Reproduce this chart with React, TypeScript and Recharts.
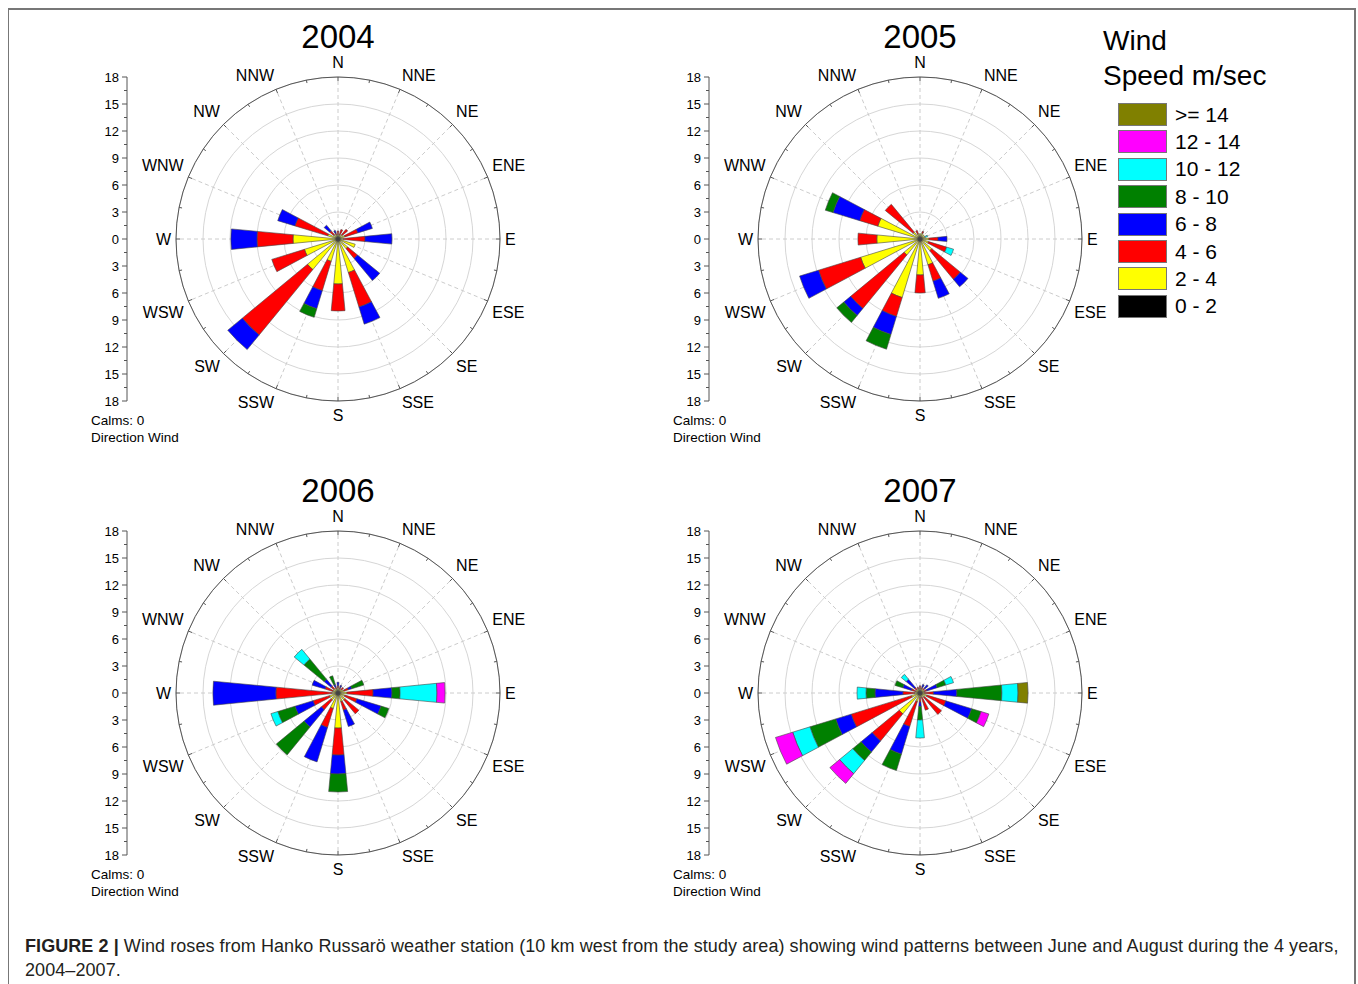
import React from "react";
import {
  RadialBarChart,
  RadialBar,
  PolarAngleAxis,
  PolarRadiusAxis,
  PolarGrid,
  Sector,
  LineChart,
  XAxis,
  YAxis,
} from "recharts";

const FONT = "'Liberation Sans', Arial, sans-serif";

// compass sectors, clockwise from north
const DIRS = ["N", "NNE", "NE", "ENE", "E", "ESE", "SE", "SSE", "S", "SSW", "SW", "WSW", "W", "WNW", "NW", "NNW"];
const RING_TICKS = [0, 3, 6, 9, 12, 15, 18];
const SIDE_TICKS = [18, 15, 12, 9, 6, 3, 0, -3, -6, -9, -12, -15, -18];
const SIDE_MINOR = [16.5, 13.5, 10.5, 7.5, 4.5, 1.5, -1.5, -4.5, -7.5, -10.5, -13.5, -16.5];

const BINS = [
  { key: "b0", label: "0 - 2", color: "#000000" },
  { key: "b2", label: "2 - 4", color: "#ffff00" },
  { key: "b4", label: "4 - 6", color: "#ff0000" },
  { key: "b6", label: "6 - 8", color: "#0000ff" },
  { key: "b8", label: "8 - 10", color: "#008000" },
  { key: "b10", label: "10 - 12", color: "#00ffff" },
  { key: "b12", label: "12 - 14", color: "#ff00ff" },
  { key: "b14", label: ">= 14", color: "#808000" },
];

// frequencies per speed class, same order as DIRS
const w04_0 = [0.3, 0.3, 0.3, 0.3, 0.3, 0.3, 0.3, 0.3, 0.3, 0.3, 0.3, 0.3, 0.3, 0.3, 0.3, 0.3];
const w04_2 = [0.2, 0.2, 0.3, 0.5, 0.3, 1.7, 1.1, 3.6, 4.7, 2.3, 4.1, 3.6, 4.7, 0.9, 0.3, 0.2];
const w04_4 = [0.4, 0.6, 0.8, 1.5, 2.4, 0, 1.4, 4.0, 3.0, 3.4, 9.4, 3.8, 4.0, 3.8, 0.6, 0.2];
const w04_6 = [0, 0, 0, 1.7, 3.0, 0, 3.2, 2.0, 0, 2.1, 2.1, 0, 2.9, 2.0, 0.8, 0.3];
const w04_8 = [0, 0, 0, 0, 0, 0, 0, 0, 0, 1.0, 0, 0, 0, 0, 0, 0];

const w05_0 = [0.3, 0.3, 0.3, 0.3, 0.3, 0.3, 0.3, 0.3, 0.3, 0.3, 0.3, 0.3, 0.3, 0.3, 0.3, 0.3];
const w05_2 = [0.3, 0.4, 0.3, 0.3, 0.7, 0.7, 1.4, 2.7, 3.7, 6.5, 2.0, 6.6, 4.5, 4.6, 0.7, 0.3];
const w05_4 = [0, 0.2, 0, 0, 1.0, 2.1, 4.1, 1.9, 2.0, 2.2, 7.7, 4.9, 2.1, 2.1, 4.0, 0.4];
const w05_6 = [0, 0, 0, 0, 1.0, 0, 1.1, 2.0, 0, 2.1, 1.0, 2.2, 0, 3.1, 0, 0];
const w05_8 = [0, 0, 0, 0, 0, 0, 0, 0, 0, 1.7, 1.0, 0, 0, 0.9, 0, 0];
const w05_10 = [0, 0, 0, 0.3, 0, 0.8, 0, 0, 0, 0, 0, 0, 0, 0, 0, 0];

const w06_0 = [0.3, 0.3, 0.3, 0.3, 0.3, 0.3, 0.3, 0.3, 0.3, 0.3, 0.3, 0.3, 0.3, 0.3, 0.3, 0.3];
const w06_2 = [0.3, 0.2, 0.2, 0.4, 0.7, 0.5, 0.7, 0.7, 3.6, 1.5, 0.7, 0.7, 0.4, 0.3, 0.3, 0.2];
const w06_4 = [0.2, 0.2, 0.3, 0.5, 2.9, 1.4, 2.0, 1.0, 3.0, 2.2, 1.4, 1.9, 6.2, 0.9, 0.4, 0.2];
const w06_6 = [0.4, 0.2, 0, 0.4, 2.1, 2.8, 0, 1.9, 2.1, 4.0, 2.5, 2.1, 7.0, 1.5, 1.0, 0.3];
const w06_8 = [0, 0, 0, 1.4, 0.9, 0.9, 0, 0, 2.0, 0, 4.0, 2.0, 0, 0, 2.9, 1.0];
const w06_10 = [0, 0, 0, 0, 4.1, 0, 0, 0, 0, 0, 0, 0.8, 0, 0, 1.4, 0];
const w06_12 = [0, 0, 0, 0, 0.9, 0, 0, 0, 0, 0, 0, 0, 0, 0, 0, 0];

const w07_0 = [0.3, 0.3, 0.3, 0.3, 0.3, 0.3, 0.3, 0.3, 0.3, 0.3, 0.3, 0.3, 0.3, 0.3, 0.3, 0.3];
const w07_2 = [0.2, 0.2, 0.2, 0.2, 0.2, 0.5, 0.3, 0.2, 0.2, 0.7, 2.7, 0.7, 0.3, 0.2, 0.2, 0.2];
const w07_4 = [0.3, 0.2, 0.2, 0.3, 1.0, 2.2, 2.5, 1.5, 0.5, 2.9, 3.9, 7.0, 1.3, 0.5, 0.3, 0.2];
const w07_6 = [0, 0.3, 0.5, 1.2, 2.6, 3.0, 0, 0, 0.5, 3.2, 1.6, 1.8, 3.1, 1.0, 1.2, 0];
const w07_8 = [0, 0, 0, 1.0, 5.0, 1.1, 0, 0, 1.5, 1.9, 1.2, 3.0, 1.0, 0.9, 0, 0];
const w07_10 = [0, 0, 0, 0.9, 1.8, 0, 0, 0, 2.0, 0, 1.9, 2.0, 1.0, 0, 0.7, 0];
const w07_12 = [0, 0, 0, 0, 0, 0.9, 0, 0, 0, 0, 1.4, 2.0, 0, 0, 0, 0];
const w07_14 = [0, 0, 0, 0, 1.1, 0, 0, 0, 0, 0, 0, 0, 0, 0, 0, 0];

const YEARS = [
  { year: "2004", cx: 338, cy: 239, bins: { b0: w04_0, b2: w04_2, b4: w04_4, b6: w04_6, b8: w04_8 } },
  { year: "2005", cx: 920, cy: 239, bins: { b0: w05_0, b2: w05_2, b4: w05_4, b6: w05_6, b8: w05_8, b10: w05_10 } },
  { year: "2006", cx: 338, cy: 693, bins: { b0: w06_0, b2: w06_2, b4: w06_4, b6: w06_6, b8: w06_8, b10: w06_10, b12: w06_12 } },
  { year: "2007", cx: 920, cy: 693, bins: { b0: w07_0, b2: w07_2, b4: w07_4, b6: w07_6, b8: w07_8, b10: w07_10, b12: w07_12, b14: w07_14 } },
];

// chart geometry
const W = 480;
const H = 400;
const CX = 240;
const CY = 200;
const OUTER = 162;

// recharts angles run counter-clockwise, so feed the sectors N, NNW, NW, ...
const CCW = [0, 15, 14, 13, 12, 11, 10, 9, 8, 7, 6, 5, 4, 3, 2, 1];
const SPOKES = DIRS.map((_, i) => 90 - i * 22.5);

const toRows = (bins: Record<string, number[]>) =>
  CCW.map((i) => {
    const row: any = { dir: DIRS[i] };
    BINS.forEach((b) => {
      row[b.key] = bins[b.key] ? bins[b.key][i] : 0;
    });
    return row;
  });

const SectorShape = (p: any) =>
  p.outerRadius - p.innerRadius > 0.05 ? <Sector {...p} /> : <g />;

const DirTick = (props: any) => {
  const name = props.payload.value;
  const idx = DIRS.indexOf(name);
  const b = (idx * 22.5 * Math.PI) / 180;
  const s = Math.sin(b);
  const c = Math.cos(b);
  const R = OUTER + 5;
  const x = CX + R * s;
  const y = CY - R * c - (Math.abs(c) > 0.01 ? Math.sign(c) * 9.5 : 0);
  const anchor = s > 0.01 ? "start" : s < -0.01 ? "end" : "middle";
  // small marks on the rim, at the sector and half way to the next one
  const m = b + (11.25 * Math.PI) / 180;
  return (
    <g>
      <line x1={CX + (OUTER - 4) * s} y1={CY - (OUTER - 4) * c} x2={CX + OUTER * s} y2={CY - OUTER * c} stroke="#555" />
      <line
        x1={CX + (OUTER - 3) * Math.sin(m)}
        y1={CY - (OUTER - 3) * Math.cos(m)}
        x2={CX + OUTER * Math.sin(m)}
        y2={CY - OUTER * Math.cos(m)}
        stroke="#555"
      />
      <text x={x} y={y} textAnchor={anchor} dominantBaseline="central" fontSize={16} fill="#000" fontFamily={FONT}>
        {name}
      </text>
    </g>
  );
};

const SideTick = (p: any) => {
  const v = p.payload.value;
  const major = v % 3 === 0;
  return (
    <g>
      <line x1={p.x - (major ? 5 : 3)} x2={p.x} y1={p.y} y2={p.y} stroke="#555" />
      {major && (
        <text x={p.x - 8} y={p.y} textAnchor="end" dominantBaseline="central" fontSize={13} fill="#000" fontFamily={FONT}>
          {Math.abs(v)}
        </text>
      )}
    </g>
  );
};

const Rose = ({ year, cx, cy, bins }: any) => {
  const rows = toRows(bins);
  return (
    <>
      <div
        style={{
          position: "absolute",
          left: cx - 100,
          top: cy - 217,
          width: 200,
          textAlign: "center",
          fontSize: 33,
          lineHeight: "30px",
        }}
      >
        {year}
      </div>

      {/* left frequency axis */}
      <div style={{ position: "absolute", left: cx - 211 - 50, top: cy - OUTER - 10 }}>
        <LineChart width={62} height={OUTER * 2 + 20} data={rows} margin={{ top: 10, right: 10, bottom: 10, left: 0 }}>
          <XAxis dataKey="dir" hide />
          <YAxis
            type="number"
            domain={[-18, 18]}
            allowDataOverflow
            ticks={[...SIDE_TICKS, ...SIDE_MINOR]}
            interval={0}
            width={50}
            tickSize={0}
            tickMargin={0}
            tickLine={false}
            axisLine={{ stroke: "#555" }}
            tick={SideTick}
          />
        </LineChart>
      </div>

      <div style={{ position: "absolute", left: cx - CX, top: cy - CY }}>
        <RadialBarChart
          width={W}
          height={H}
          cx={CX}
          cy={CY}
          innerRadius={0}
          outerRadius={OUTER}
          startAngle={101.25}
          endAngle={461.25}
          data={rows}
          layout="centric"
          barCategoryGap="26%"
          margin={{ top: 0, right: 0, bottom: 0, left: 0 }}
        >
          <PolarGrid gridType="circle" radialLines={false} stroke="#d6d6d6" />
          <PolarGrid gridType="circle" polarRadius={[]} polarAngles={SPOKES} stroke="#cccccc" strokeDasharray="4 3" />
          <PolarRadiusAxis type="number" domain={[0, 18]} ticks={RING_TICKS} tick={false} axisLine={false} />
          <PolarAngleAxis
            type="category"
            dataKey="dir"
            axisLineType="circle"
            stroke="#555"
            tickLine={false}
            tick={DirTick}
          />
          {BINS.map((b) => (
            <RadialBar
              key={b.key}
              dataKey={b.key}
              stackId="w"
              fill={b.color}
              stroke="#444"
              strokeWidth={0.6}
              shape={SectorShape}
              isAnimationActive={false}
            />
          ))}
        </RadialBarChart>
      </div>

      <div style={{ position: "absolute", left: cx - 247, top: cy + 173, fontSize: 13.5, lineHeight: "17px" }}>
        <div>Calms: 0</div>
        <div>Direction Wind</div>
      </div>
    </>
  );
};

export default function App() {
  return (
    <div
      style={{
        position: "fixed",
        left: 0,
        top: 0,
        width: 1358,
        height: 984,
        background: "#fff",
        fontFamily: FONT,
        color: "#000",
        overflow: "hidden",
      }}
    >
      {/* figure frame */}
      <div style={{ position: "absolute", left: 8, top: 8, width: 1348, height: 2, background: "#777" }} />
      <div style={{ position: "absolute", left: 8, top: 8, width: 1, height: 976, background: "#777" }} />
      <div style={{ position: "absolute", left: 1354, top: 8, width: 2, height: 976, background: "#777" }} />

      {YEARS.map((y) => (
        <Rose key={y.year} {...y} />
      ))}

      {/* speed legend */}
      <div style={{ position: "absolute", left: 1103, top: 23, fontSize: 28, lineHeight: "35px" }}>
        <div>Wind</div>
        <div>Speed m/sec</div>
      </div>
      {[...BINS].reverse().map((b, i) => (
        <div key={b.key} style={{ position: "absolute", left: 1118, top: 103 + i * 27.4, height: 23, display: "flex", alignItems: "center" }}>
          <div style={{ width: 47, height: 21, background: b.color, border: "1px solid #777" }} />
          <span style={{ marginLeft: 8, fontSize: 21 }}>{b.label}</span>
        </div>
      ))}

      <div
        style={{
          position: "absolute",
          left: 25,
          top: 934,
          fontSize: 18,
          lineHeight: "24px",
          letterSpacing: 0.07,
          color: "#231f20",
          whiteSpace: "nowrap",
        }}
      >
        <b>FIGURE 2 |</b> Wind roses from Hanko Russarö weather station (10 km west from the study area) showing wind patterns between June and August during the 4 years,
        <br />
        2004–2007.
      </div>
    </div>
  );
}
